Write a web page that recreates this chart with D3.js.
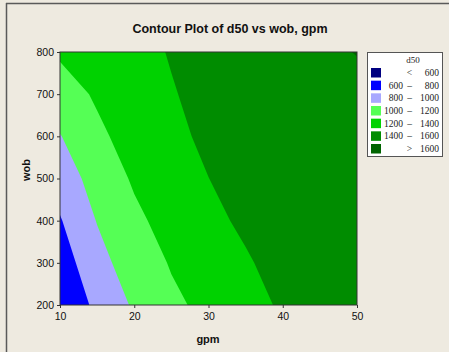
<!DOCTYPE html>
<html>
<head>
<meta charset="utf-8">
<script src="https://cdn.jsdelivr.net/npm/d3@7"></script>
<style>
  body { margin: 0; background: #eeeae0; }
  svg { display: block; }
</style>
</head>
<body>
<svg width="449" height="352"></svg>
<script>
// grid the contours are drawn from (rows go from wob 200 up to 800)
const gpmVals = [10, 15, 20, 25, 30, 35, 40, 45, 50];
const wobVals = [200, 300, 400, 500, 600, 700, 800];
const d50Rows = [
  [620, 848, 1025, 1165, 1245, 1330, 1425, 1470, 1500],
  [703, 931, 1103, 1213, 1290, 1385, 1450, 1480, 1505],
  [786, 1008, 1160, 1270, 1365, 1425, 1470, 1500, 1525],
  [888, 1080, 1223, 1315, 1399, 1450, 1490, 1520, 1545],
  [992, 1160, 1280, 1370, 1425, 1470, 1505, 1535, 1560],
  [1110, 1225, 1305, 1390, 1445, 1490, 1520, 1540, 1559],
  [1227, 1290, 1350, 1410, 1455, 1500, 1535, 1570, 1605]
];

// legend levels
const levels = [600, 800, 1000, 1200, 1400, 1600];
const levelColors = ["#000080", "#0000ff", "#a8a8ff", "#55ff55", "#00d200", "#008c00", "#006400"];
const legendRows = [["", "<", "600"], ["600", "\u2013", "800"], ["800", "\u2013", "1000"],
  ["1000", "\u2013", "1200"], ["1200", "\u2013", "1400"], ["1400", "\u2013", "1600"], ["", ">", "1600"]];

const xTicks = [10, 20, 30, 40, 50];
const yTicks = [200, 300, 400, 500, 600, 700, 800];

const svg = d3.select("svg");

// window frame lines
svg.append("line").attr("x1", 6.5).attr("x2", 6.5).attr("y1", 3).attr("y2", 352)
  .attr("stroke", "#5a5a5a").attr("stroke-width", 1.5);
svg.append("line").attr("x1", 6).attr("x2", 449).attr("y1", 3.5).attr("y2", 3.5)
  .attr("stroke", "#5a5a5a").attr("stroke-width", 1.5);

const x = d3.scaleLinear().domain([10, 50]).range([60, 357]);
const y = d3.scaleLinear().domain([200, 800]).range([305, 52]);

// contour grid coords -> pixels
const nx = gpmVals.length, ny = wobVals.length;
const cx = d3.scaleLinear().domain([0.5, nx - 0.5]).range([x(gpmVals[0]), x(gpmVals[nx - 1])]);
const cy = d3.scaleLinear().domain([0.5, ny - 0.5]).range([y(wobVals[0]), y(wobVals[ny - 1])]);
const path = d3.geoPath(d3.geoTransform({
  point(px, py) { this.stream.point(cx(px), cy(py)); }
}));

const values = d50Rows.flat();
const contours = d3.contours().size([nx, ny]).thresholds(levels)(values);

svg.append("clipPath").attr("id", "plot-clip")
  .append("rect").attr("x", 60).attr("y", 52).attr("width", 297).attr("height", 253);

const plot = svg.append("g").attr("clip-path", "url(#plot-clip)");
plot.append("rect").attr("x", 60).attr("y", 52).attr("width", 297).attr("height", 253)
  .attr("fill", levelColors[0]);
plot.selectAll("path")
  .data(contours)
  .enter()
  .append("path")
  .attr("d", path)
  .attr("fill", (d, i) => levelColors[i + 1]);

svg.append("rect").attr("x", 60).attr("y", 52).attr("width", 297).attr("height", 253)
  .attr("fill", "none").attr("stroke", "#333").attr("stroke-width", 1);

// axes
const xAxis = svg.append("g").attr("transform", "translate(0,305)")
  .call(d3.axisBottom(x).tickValues(xTicks).tickSize(3).tickSizeOuter(0));
const yAxis = svg.append("g").attr("transform", "translate(60,0)")
  .call(d3.axisLeft(y).tickValues(yTicks).tickSize(3).tickSizeOuter(0));
[xAxis, yAxis].forEach(a => {
  a.select(".domain").remove();
  a.selectAll("line").attr("stroke", "#333");
  a.selectAll("text").attr("font-family", "Liberation Sans, Arial, sans-serif")
    .attr("font-size", 10.5).attr("fill", "#111");
});
xAxis.selectAll("text").attr("dy", "0.9em");

// titles
svg.append("text").attr("x", 230).attr("y", 33).attr("text-anchor", "middle")
  .attr("font-family", "Liberation Sans, Arial, sans-serif").attr("font-weight", "bold")
  .attr("font-size", 12.5).attr("fill", "#111")
  .text("Contour Plot of d50 vs wob, gpm");
svg.append("text").attr("x", 208).attr("y", 343).attr("text-anchor", "middle")
  .attr("font-family", "Liberation Sans, Arial, sans-serif").attr("font-weight", "bold")
  .attr("font-size", 11).attr("fill", "#111").text("gpm");
svg.append("text").attr("transform", "translate(30,170) rotate(-90)").attr("text-anchor", "middle")
  .attr("font-family", "Liberation Sans, Arial, sans-serif").attr("font-weight", "bold")
  .attr("font-size", 11).attr("fill", "#111").text("wob");

// legend
const legend = svg.append("g");
legend.append("rect").attr("x", 367.5).attr("y", 52.5).attr("width", 75).attr("height", 104)
  .attr("fill", "#fff").attr("stroke", "#555");
legend.append("text").attr("x", 413).attr("y", 63).attr("text-anchor", "middle")
  .attr("font-family", "Liberation Serif, serif").attr("font-size", 9).attr("fill", "#222")
  .text("d50");
const rowY = d3.scaleLinear().domain([0, 6]).range([68, 144]);
const rows = legend.selectAll(".lrow").data(legendRows).enter().append("g")
  .attr("class", "lrow").attr("transform", (d, i) => `translate(0,${rowY(i)})`);
rows.append("rect").attr("x", 371).attr("width", 10).attr("height", 9.5)
  .attr("fill", (d, i) => levelColors[i]);
const lt = (sel, xx, anchor, k) => sel.append("text").attr("x", xx).attr("y", 8)
  .attr("text-anchor", anchor).attr("font-family", "Liberation Serif, serif")
  .attr("font-size", 9.5).attr("fill", "#222").text(d => d[k]);
lt(rows, 403, "end", 0);
lt(rows, 409.5, "middle", 1);
lt(rows, 439, "end", 2);
</script>
</body>
</html>
